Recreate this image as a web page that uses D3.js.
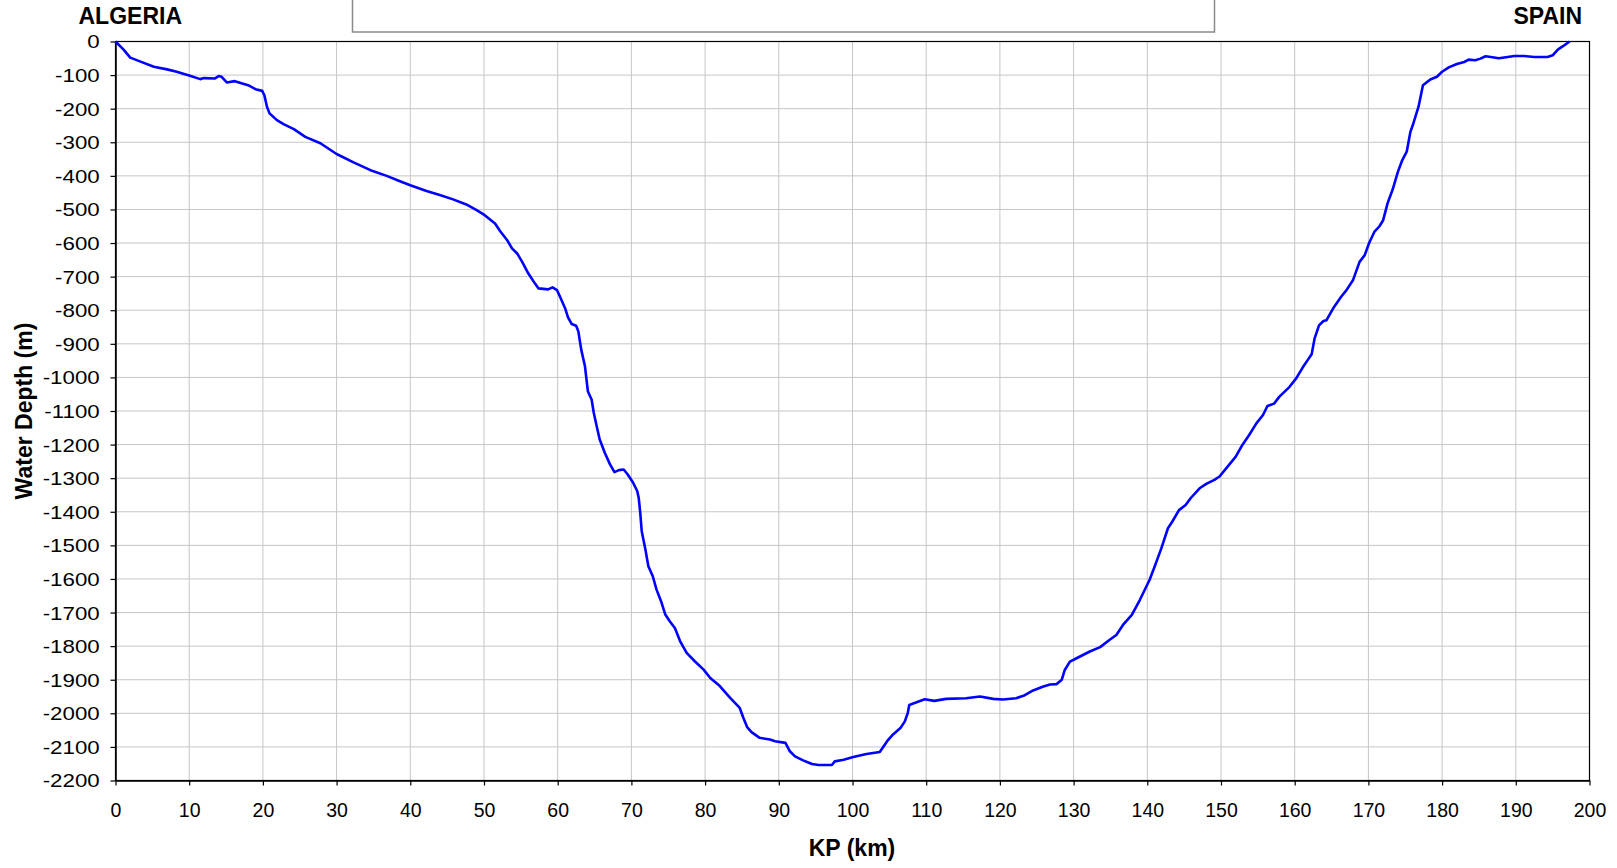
<!DOCTYPE html>
<html>
<head>
<meta charset="utf-8">
<script src="https://cdn.jsdelivr.net/npm/d3@7"></script>
<style>
  body { margin: 0; background: #fff; }
  svg text { font-family: "Liberation Sans", Arial, sans-serif; fill: #000; }
</style>
</head>
<body>
<svg id="chart" width="1617" height="868"></svg>
<script>
// KP along the route (km) and water depth (m)
var kp = [0, 1.1, 2.0, 3.4, 5.2, 7.0, 8.3, 10.1, 11.5, 12.0, 13.5, 14.0, 14.4, 15.1, 16.2, 17.2, 18.0, 19.0, 19.9, 20.2,
    20.55, 20.9, 21.9, 22.8, 24.2, 25.75, 27.8, 30.0, 32.3, 34.6, 36.8, 38.6, 40, 42.2, 44, 45.8, 47.6, 49.0, 50.1, 51.5,
    52.2, 53.1, 53.8, 54.5, 55.2, 56.0, 56.9, 57.4, 58.7, 59.3, 59.9, 60.3, 61.0, 61.4, 61.9, 62.5, 62.8, 63.2, 63.7, 64.1,
    64.6, 64.9, 65.3, 65.7, 66.4, 67.1, 67.7, 68.3, 68.96, 69.5, 70.2, 70.8, 71.0, 71.2, 71.4, 71.9, 72.3, 72.9, 73.4, 74.1,
    74.6, 75.2, 75.9, 76.6, 77.5, 78.6, 79.8, 80.7, 82.0, 83.4, 84.7, 85.2, 85.7, 86.3, 87.4, 88.8, 89.5, 90.9, 91.5, 92.2,
    93.3, 94.5, 95.4, 97.2, 97.6, 98.8, 100.1, 101.9, 103.7, 104.7, 105.5, 106.5, 107.1, 107.5, 107.7, 108.6, 109.8, 111.1, 112.7, 115.4,
    117.3, 119.1, 120.4, 122.2, 123.2, 124.5, 125.9, 126.8, 127.7, 128.4, 128.8, 129.5, 130.4, 132.2, 133.6, 134.9, 135.8, 136.7, 137.9, 139.0,
    140.3, 141.0, 141.9, 142.8, 143.4, 144.3, 145.2, 145.9, 147.1, 148.0, 149.1, 149.8, 150.7, 152.0, 152.9, 153.8, 154.8, 155.7, 156.3, 157.2,
    157.9, 159.3, 160.2, 161.1, 161.8, 162.3, 162.7, 163.3, 163.9, 164.3, 165.2, 166.3, 167.0, 167.9, 168.8, 169.5, 170.1, 170.8, 171.5, 172.0,
    172.6, 173.3, 174.0, 174.6, 175.2, 175.7, 176.1, 176.8, 177.4, 178.4, 179.3, 180.0, 180.9, 182.0, 183.0, 183.6, 184.5, 185.2, 185.9, 186.6,
    187.7, 188.9, 189.8, 191.1, 192.5, 194.3, 195.0, 195.7, 196.4, 197.3];

var depth = [0, -24, -48, -60, -75, -83, -90, -102, -112, -109, -110, -103, -105, -122, -118, -125, -130, -142, -147, -160,
    -194, -214, -234, -246, -261, -284, -303, -335, -360, -383, -400, -416, -428, -445, -457, -470, -485, -502, -517, -542,
    -565, -590, -616, -631, -657, -690, -720, -735, -738, -732, -740, -759, -794, -821, -841, -846, -863, -918, -967, -1042,
    -1066, -1106, -1146, -1185, -1225, -1259, -1282, -1276, -1274, -1289, -1312, -1339, -1360, -1403, -1458, -1512, -1562, -1592, -1631, -1671,
    -1706, -1726, -1746, -1785, -1820, -1845, -1870, -1895, -1919, -1954, -1984, -2014, -2041, -2056, -2073, -2078, -2083, -2088, -2113, -2128,
    -2140, -2151, -2154, -2154, -2143, -2138, -2130, -2121, -2115, -2083, -2063, -2044, -2024, -1999, -1975, -1968, -1958, -1963, -1957, -1955,
    -1950, -1957, -1959, -1955, -1948, -1932, -1920, -1914, -1913, -1900, -1871, -1846, -1836, -1816, -1803, -1781, -1767, -1737, -1707, -1662,
    -1603, -1563, -1509, -1449, -1429, -1395, -1380, -1359, -1330, -1317, -1305, -1295, -1271, -1236, -1201, -1172, -1137, -1112, -1085, -1078,
    -1058, -1028, -1003, -970, -947, -931, -884, -845, -832, -830, -795, -760, -741, -711, -656, -636, -600, -567, -550, -532,
    -482, -440, -388, -353, -328, -269, -244, -194, -130, -113, -105, -90, -77, -67, -61, -54, -56, -51, -44, -46,
    -50, -46, -43, -43, -46, -46, -41, -24, -14, 0];

var xTicks = d3.range(0, 201, 10);
var yTicks = d3.range(-2200, 1, 100);

var svg = d3.select("#chart");

var x = d3.scaleLinear().domain([0, 200]).range([115.5, 1589.5]);
var y = d3.scaleLinear().domain([-2200, 0]).range([780.5, 41.5]);

// box at the top
svg.append("rect")
    .attr("x", 352.5).attr("y", -5)
    .attr("width", 862).attr("height", 37)
    .attr("fill", "#fff")
    .attr("stroke", "#8a8a8a")
    .attr("stroke-width", 1.5);

// grid
svg.append("g")
    .selectAll("line")
    .data(xTicks.slice(1, -1))
    .enter()
        .append("line")
        .attr("x1", function(d) { return x(d); })
        .attr("x2", function(d) { return x(d); })
        .attr("y1", y(0))
        .attr("y2", y(-2200))
        .attr("stroke", "#c6c6c6");

svg.append("g")
    .selectAll("line")
    .data(yTicks.slice(1, -1))
    .enter()
        .append("line")
        .attr("x1", x(0))
        .attr("x2", x(200))
        .attr("y1", function(d) { return y(d); })
        .attr("y2", function(d) { return y(d); })
        .attr("stroke", "#c6c6c6");

// axes
var xAxis = svg.append("g")
    .attr("transform", "translate(0," + y(-2200) + ")")
    .call(d3.axisBottom(x).tickValues(xTicks).tickSize(5).tickSizeOuter(0).tickFormat(function(d) { return String(d); }));
xAxis.selectAll("text")
    .attr("y", 23)
    .attr("dy", "0.71em")
    .style("font-size", "19.5px");

var yAxis = svg.append("g")
    .attr("transform", "translate(" + x(0) + ",0)")
    .call(d3.axisLeft(y).tickValues(yTicks).tickSize(5).tickSizeOuter(0).tickFormat(function(d) { return String(d); }));
yAxis.selectAll("text")
    .attr("x", -12.7)
    .attr("dy", "0.36em")
    .attr("transform", "scale(1.24,1)")
    .style("font-size", "18px");

svg.selectAll(".domain").attr("stroke", "#000").attr("stroke-width", 1.5);
svg.selectAll(".tick line").attr("stroke", "#000").attr("stroke-width", 1.2);

// plot border
svg.append("rect")
    .attr("x", x(0)).attr("y", y(0))
    .attr("width", x(200) - x(0))
    .attr("height", y(-2200) - y(0))
    .attr("fill", "none")
    .attr("stroke", "#000")
    .attr("stroke-width", 1.2);

// profile
var line = d3.line()
    .x(function(d, i) { return x(kp[i]); })
    .y(function(d) { return y(d); });

svg.append("path")
    .datum(depth)
    .attr("d", line)
    .attr("fill", "none")
    .attr("stroke", "#0000ff")
    .attr("stroke-width", 2.6)
    .attr("stroke-linejoin", "round");

// labels
svg.append("text")
    .attr("x", 78.5).attr("y", 24)
    .style("font-size", "23px").style("font-weight", "bold")
    .text("ALGERIA");

svg.append("text")
    .attr("x", 1582).attr("y", 24)
    .attr("text-anchor", "end")
    .style("font-size", "23px").style("font-weight", "bold")
    .text("SPAIN");

svg.append("text")
    .attr("x", 852).attr("y", 856)
    .attr("text-anchor", "middle")
    .style("font-size", "23px").style("font-weight", "bold")
    .text("KP (km)");

svg.append("text")
    .attr("transform", "translate(32,411) rotate(-90)")
    .attr("text-anchor", "middle")
    .style("font-size", "23px").style("font-weight", "bold")
    .text("Water Depth (m)");
</script>
</body>
</html>
